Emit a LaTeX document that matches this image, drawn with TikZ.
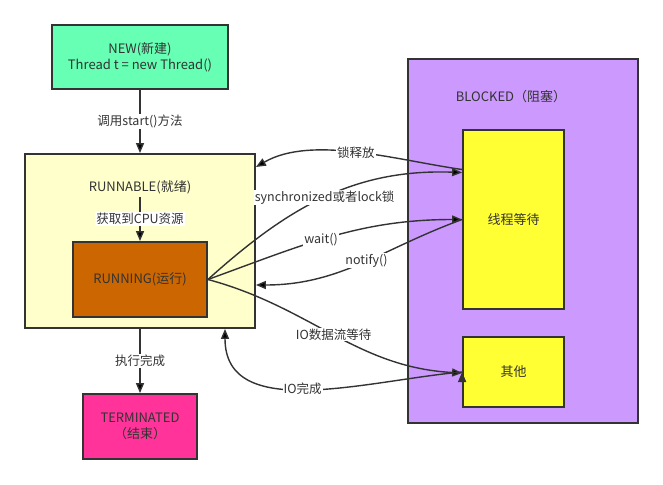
\documentclass[tikz,border=0pt]{standalone}
\usepackage{fontspec}
\setmainfont{Noto Sans CJK SC}
\usepackage{tikz}
\usetikzlibrary{arrows.meta}

\definecolor{linegray}{HTML}{333333}
\definecolor{newgreen}{HTML}{66FFB3}
\definecolor{readyyellow}{HTML}{FFFFCC}
\definecolor{runorange}{HTML}{CC6600}
\definecolor{endpink}{HTML}{FF3399}
\definecolor{blockpurple}{HTML}{CC99FF}
\definecolor{waityellow}{HTML}{FFFF33}

\begin{document}
\begin{tikzpicture}[x=1pt,y=1pt,>={Triangle[length=10pt,width=8pt]},
    state/.style={draw=linegray,line width=1.8pt,rectangle,text=linegray,align=center,font=\fontsize{13}{16}\selectfont},
    txt/.style={text=linegray,font=\fontsize{13}{16}\selectfont},
    lbl/.style={fill=white,inner sep=1pt,text=linegray,font=\fontsize{12.5}{15}\selectfont},
    conn/.style={->,draw=linegray,line width=1.4pt}]
        \useasboundingbox (0,0) rectangle (663,-484);

        \node[state, fill=newgreen, minimum width=176, minimum height=64]       (new)        at (140,-57)     {NEW(新建)\\Thread t = new Thread()};
        \node[state, fill=readyyellow, minimum width=230, minimum height=174]   (runnable)   at (140,-241)    {};
        \node[txt]                                                              (readytext)  at (140,-187)    {RUNNABLE(就绪)};
        \node[state, fill=runorange, minimum width=134, minimum height=75]      (running)    at (140,-279.5)  {RUNNING(运行)};
        \node[state, fill=endpink, minimum width=114, minimum height=65]        (terminated) at (140,-426.5)  {TERMINATED\\（结束）};
        \node[state, fill=blockpurple, minimum width=230, minimum height=364]   (blocked)    at (523,-241)    {};
        \node[txt]                                                              (blocktext)  at (511,-97)     {BLOCKED（阻塞）};
        \node[state, fill=waityellow, minimum width=101, minimum height=179]    (waiting)    at (513.5,-219.5) {线程等待};
        \node[state, fill=waityellow, minimum width=101, minimum height=70]     (other)      at (513.5,-372)  {其他};

        \path[conn] (new) edge node[lbl] {调用start()方法} (runnable)
        (readytext) edge node[lbl] {获取到CPU资源} (running)
        (runnable) edge node[lbl] {执行完成} (terminated)
        ;

        \path[conn] ([yshift=50]waiting.west) edge [out=172,in=30,looseness=0.8] node[lbl] {锁释放} ([yshift=74]runnable.east)
        (running.east) edge [out=42,in=178] node[lbl] {synchronized或者lock锁} ([yshift=47]waiting.west)
        (running.east) edge [out=20,in=180] node[lbl,pos=0.45] {wait()} (waiting.west)
        (waiting.west) edge [out=200,in=0] node[lbl,pos=0.47] {notify()} ([yshift=-44]runnable.east)
        (running.east) edge [out=-15,in=177] node[lbl] {IO数据流等待} ([yshift=-1]other.west)
        (other.west) edge [out=185,in=-90] node[lbl,pos=0.52] {IO完成} ([xshift=85]runnable.south)
        ;
    \end{tikzpicture}
\end{document}
